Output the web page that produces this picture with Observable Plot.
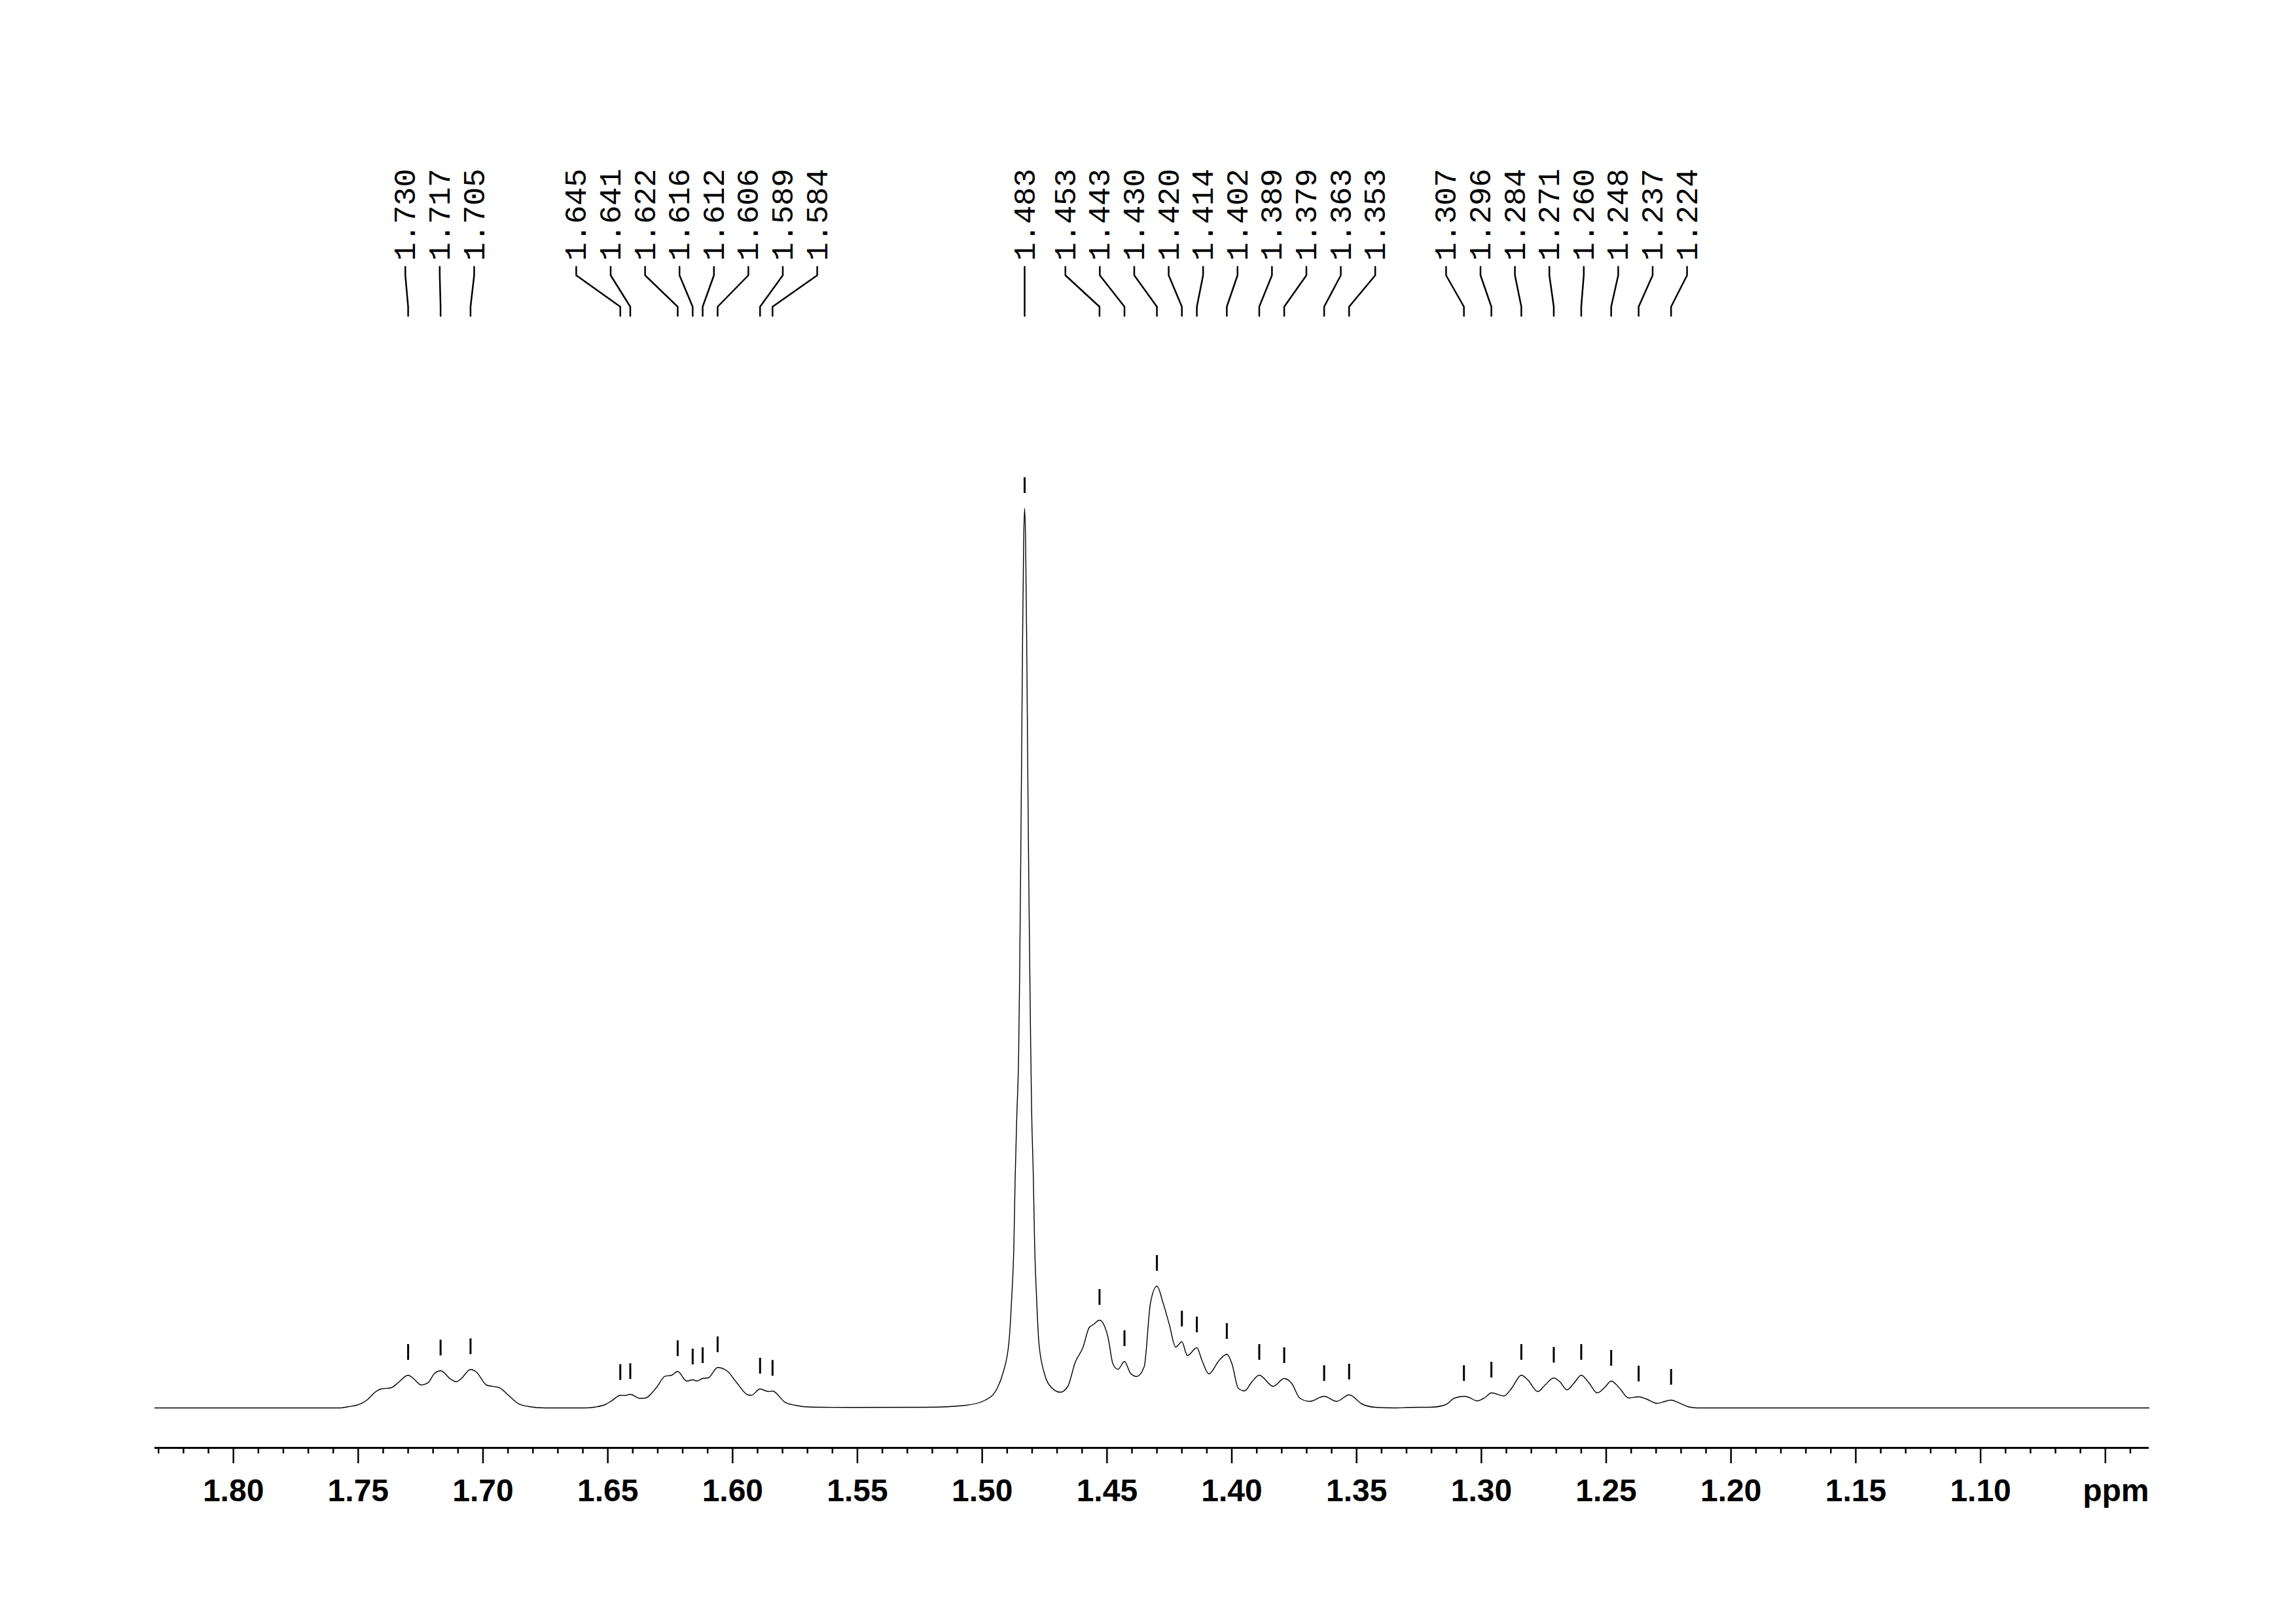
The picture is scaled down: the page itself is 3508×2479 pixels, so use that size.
<!DOCTYPE html>
<html>
<head>
<meta charset="utf-8">
<script src="https://cdn.jsdelivr.net/npm/d3@7"></script>
<script src="https://cdn.jsdelivr.net/npm/@observablehq/plot@0.6"></script>
<style>
html, body { margin: 0; padding: 0; background: #fff; }
#chart svg { display: block; }
</style>
</head>
<body>
<div id="chart"></div>
<script>
// ---- Spectrum (chemical shift in ppm, intensity in arbitrary units) ----
const shift = [
  1.8315, 1.7622, 1.7575, 1.7542, 1.7488, 1.7461, 1.7435, 1.7408, 1.7368, 1.7341,
  1.7300, 1.7285, 1.7247, 1.7221, 1.7194, 1.7170, 1.7127, 1.7107, 1.7087, 1.7050,
  1.7027, 1.6986, 1.6933, 1.6900, 1.6859, 1.6819, 1.6752, 1.6592, 1.6552, 1.6511,
  1.6485, 1.6450, 1.6431, 1.6410, 1.6371, 1.6351, 1.6304, 1.6271, 1.6244, 1.6220,
  1.6184, 1.6160, 1.6144, 1.6120, 1.6097, 1.6060, 1.6023, 1.5983, 1.5939, 1.5925,
  1.5890, 1.5856, 1.5840, 1.5789, 1.5749, 1.5682, 1.5524, 1.5223, 1.5066, 1.4987,
  1.4940, 1.4917, 1.4893, 1.4882, 1.4873, 1.4868, 1.4861, 1.4854, 1.4850, 1.4846,
  1.4842, 1.4838, 1.4834, 1.4830, 1.4826, 1.4822, 1.4818, 1.4814, 1.4810, 1.4806,
  1.4802, 1.4795, 1.4790, 1.4782, 1.4773, 1.4751, 1.4733, 1.4687, 1.4657, 1.4627,
  1.4597, 1.4571, 1.4556, 1.4530, 1.4496, 1.4476, 1.4456, 1.4430, 1.4406, 1.4381,
  1.4351, 1.4326, 1.4300, 1.4275, 1.4250, 1.4225, 1.4200, 1.4178, 1.4140, 1.4120,
  1.4092, 1.4050, 1.4020, 1.3999, 1.3974, 1.3949, 1.3919, 1.3890, 1.3834, 1.3790,
  1.3759, 1.3728, 1.3688, 1.3630, 1.3580, 1.3530, 1.3478, 1.3427, 1.3347, 1.3295,
  1.3195, 1.3143, 1.3108, 1.3070, 1.3049, 1.3017, 1.2985, 1.2960, 1.2909, 1.2879,
  1.2840, 1.2815, 1.2774, 1.2745, 1.2710, 1.2686, 1.2657, 1.2628, 1.2600, 1.2569,
  1.2536, 1.2505, 1.2480, 1.2446, 1.2411, 1.2370, 1.2341, 1.2297, 1.2240, 1.2206,
  1.2171, 1.2136, 1.0325
];
const intensity = [
  0, 0, 0, 1.7, 6.7, 13.3, 23.3, 29, 30.7, 38.3,
  50, 47, 35, 38.3, 52.7, 56.7, 43.3, 40, 45, 58.7,
  55, 35, 30.7, 20, 6.7, 2.3, 0, 0, 1.3, 5,
  10.7, 19.3, 19, 20.7, 14.7, 15, 31.7, 48.3, 50, 55.7,
  41, 43, 41.3, 45, 46, 61.7, 56.7, 38.3, 20, 19.3,
  29, 25, 25.7, 8.3, 4, 1.3, 0.7, 1, 4, 12,
  30, 53, 100, 167, 250, 350, 450, 540, 660, 820,
  1000, 1180, 1320, 1374, 1320, 1180, 1000, 830, 690, 560,
  455, 350, 250, 167, 100, 53, 36, 24, 33, 70,
  91.7, 123, 127, 134, 108, 67, 59, 71, 53, 48,
  63, 160, 186, 160, 127, 93, 101, 80, 92, 73,
  52, 73, 82, 67, 30, 26, 40, 50, 33, 45,
  37, 15, 10, 17.7, 10, 20, 6, 1, 0, 0.7,
  1.3, 5, 15, 17.7, 16, 10.7, 16, 23, 18.3, 30,
  50, 43.3, 25, 35, 45.7, 40, 27.7, 38.3, 50, 38.3,
  23, 31.7, 41, 30, 15.3, 17, 14, 7, 12, 7.3,
  1.7, 0, 0
];

// ---- Picked peaks (labels at the top) ----
const peakLabels = [
  1.730, 1.717, 1.705,
  1.645, 1.641, 1.622, 1.616, 1.612, 1.606, 1.589, 1.584,
  1.483,
  1.453, 1.443, 1.430, 1.420, 1.414, 1.402, 1.389, 1.379, 1.363, 1.353,
  1.307, 1.296, 1.284, 1.271, 1.260, 1.248, 1.237, 1.224
];

// ---- Axis ticks and tick labels ----
const majorTicks = [1.80, 1.75, 1.70, 1.65, 1.60, 1.55, 1.50, 1.45, 1.40, 1.35, 1.30, 1.25, 1.20, 1.15, 1.10, 1.05];
const labelTicks = [1.80, 1.75, 1.70, 1.65, 1.60, 1.55, 1.50, 1.45, 1.40, 1.35, 1.30, 1.25, 1.20, 1.15, 1.10];
const tickLabels = ["1.80", "1.75", "1.70", "1.65", "1.60", "1.55", "1.50", "1.45", "1.40", "1.35", "1.30", "1.25", "1.20", "1.15", "1.10"];
const axisUnit = "ppm";

// ---- Layout (pixels) ----
const W = 3508, H = 2479;
const marginLeft = 236, marginRight = 225, marginTop = 0, marginBottom = 268;
const xDomain = [1.8315, 1.0325];
const yDomain = [0, 1374];
const yRange = [2150, 776];
const axisPx = H - marginBottom;           // axis line
const labelPitchPx = 52.6;                 // spacing of the peak labels
const textStartPx = 398, c1 = 407, c2 = 420, c3 = 468, c4 = 482; // label & connector rows
const markerGapPx = 23, markerLenPx = 24;

const unitsPerPx = (yDomain[1] - yDomain[0]) / (yRange[0] - yRange[1]);
const yAtPx = (px) => yDomain[0] + (yRange[0] - px) * unitsPerPx;
const ppmPerPx = (xDomain[0] - xDomain[1]) / (W - marginRight - marginLeft);

const spectrum = shift.map((s, i) => ({ppm: s, h: intensity[i]}));
function hAt(p) {
  for (let i = 0; i < shift.length - 1; i++) {
    if (shift[i] >= p && p >= shift[i + 1]) {
      const t = (shift[i] - p) / (shift[i] - shift[i + 1]);
      return intensity[i] + t * (intensity[i + 1] - intensity[i]);
    }
  }
  return 0;
}

// group neighbouring peaks, spread labels evenly around each group's mean
const groups = [];
peakLabels.forEach(p => {
  const g = groups[groups.length - 1];
  if (g && g[g.length - 1] - p < 0.025) g.push(p); else groups.push([p]);
});
const pitch = labelPitchPx * ppmPerPx;
const labelRows = [];
const connectorRows = [];
groups.forEach(g => {
  const m = d3.mean(g);
  g.forEach((p, i) => {
    const lx = m + ((g.length - 1) / 2 - i) * pitch;
    labelRows.push({lx, ly: yAtPx(textStartPx), text: p.toFixed(3)});
    connectorRows.push({id: p, x: lx, y: yAtPx(c1)});
    connectorRows.push({id: p, x: lx, y: yAtPx(c2)});
    connectorRows.push({id: p, x: p, y: yAtPx(c3)});
    connectorRows.push({id: p, x: p, y: yAtPx(c4)});
  });
});

const minorTicks = d3.range(104, 184).map(v => v / 100).filter(v => !majorTicks.some(m => Math.abs(m - v) < 1e-6));

const chart = Plot.plot({
  width: W,
  height: H,
  marginLeft, marginRight, marginTop, marginBottom,
  style: {background: "#fff", color: "#000", fontFamily: "Liberation Sans, Arial, sans-serif"},
  x: {domain: xDomain, axis: null},
  y: {domain: yDomain, range: yRange, axis: null},
  marks: [
    // axis line
    Plot.ruleY([yAtPx(axisPx)], {stroke: "#000", strokeWidth: 3}),
    // minor ticks
    Plot.ruleX(minorTicks, {x: d => d, insetTop: axisPx - marginTop, insetBottom: -9, stroke: "#000", strokeWidth: 2.5}),
    // major ticks
    Plot.ruleX(majorTicks, {x: d => d, insetTop: axisPx - marginTop, insetBottom: -24, stroke: "#000", strokeWidth: 2.5}),
    // tick labels
    Plot.text(labelTicks, {x: d => d, text: (d, i) => tickLabels[i], frameAnchor: "bottom", lineAnchor: "top", dy: 47,
      fontSize: 48, fontWeight: "bold", fontFamily: "Liberation Sans, Arial, sans-serif", fill: "#000"}),
    Plot.text([axisUnit], {frameAnchor: "bottom-right", textAnchor: "end", lineAnchor: "top", dy: 47,
      fontSize: 48, fontWeight: "bold", fontFamily: "Liberation Sans, Arial, sans-serif", fill: "#000"}),
    // spectrum
    Plot.line(spectrum, {x: "ppm", y: "h", stroke: "#000", strokeWidth: 1.4, curve: "monotone-x"}),
    // peak markers
    Plot.ruleX(peakLabels, {x: d => d, y1: d => hAt(d) + markerGapPx * unitsPerPx, y2: d => hAt(d) + (markerGapPx + markerLenPx) * unitsPerPx,
      stroke: "#000", strokeWidth: 3}),
    // label connectors
    Plot.line(connectorRows, {x: "x", y: "y", z: "id", stroke: "#000", strokeWidth: 2.5, curve: "linear"}),
    // peak labels
    Plot.text(labelRows, {x: "lx", y: "ly", text: "text", rotate: -90, textAnchor: "start",
      fontFamily: "Liberation Mono, monospace", fontSize: 47, fill: "#000"})
  ]
});
document.getElementById("chart").appendChild(chart);
</script>
</body>
</html>
